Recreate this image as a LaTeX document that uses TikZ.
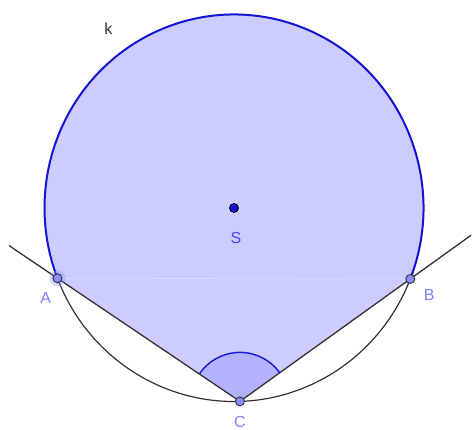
\documentclass[tikz,border=0pt]{standalone}
\usepackage{fontspec}
\setmainfont{Liberation Sans}
\usetikzlibrary{calc}
\definecolor{regfill}{RGB}{204,204,255}
\definecolor{angfill}{RGB}{178,178,255}
\definecolor{circblue}{RGB}{20,20,210}
\definecolor{ptfill}{RGB}{140,140,255}
\definecolor{lbl}{RGB}{128,128,255}
\definecolor{slbl}{RGB}{70,70,255}
\definecolor{ln}{RGB}{50,50,50}
\begin{document}
\begin{tikzpicture}[x=1pt,y=1pt,
  lineblk/.style={ln,line width=1.3pt},
  ptstyle/.style={circle,fill=ptfill,draw=ln,line width=0.9pt,inner sep=0pt,minimum size=9pt},
  ptlabel/.style={text=lbl,font=\fontsize{16}{18}\selectfont,inner sep=0pt}]
\useasboundingbox (0,0) rectangle (472,430);
\coordinate (S) at (234,222);
\coordinate (A) at ($(S)+(201.3:189.5 and 193.5)$);
\coordinate (B) at ($(S)+(-21.5:189.5 and 193.5)$);
\coordinate (C) at ($(S)+(-88.2:189.5 and 193.5)$);
\coordinate (L) at ($(C)!1.266!(A)$);
\coordinate (R) at ($(C)!1.357!(B)$);
% filled region
\fill[regfill] (B) arc[start angle=-21.5,end angle=201.3,x radius=189.5,y radius=193.5] -- (C) -- cycle;
% angle sector
\fill[angfill] (C) -- ($(C)+(35.7:49)$) arc[start angle=35.7,end angle=145.8,radius=49] -- cycle;
% faint seam
\draw[white,opacity=0.35,line width=0.6pt] (A) -- (B);
% minor arc
\draw[ln,line width=1.2pt] (A) arc[start angle=201.3,end angle=338.5,x radius=189.5,y radius=193.5];
% major arc
\draw[circblue,line width=2pt] (B) arc[start angle=-21.5,end angle=201.3,x radius=189.5,y radius=193.5];
% lines
\draw[lineblk] (L) -- (C) -- (R);
% angle arc
\draw[circblue,line width=1.4pt] ($(C)+(35.7:49)$) arc[start angle=35.7,end angle=145.8,radius=49];
% points
\fill[ptfill,opacity=0.35] (A) circle[radius=8];
\node[ptstyle] (nA) at (A) {};
\node[ptstyle] (nB) at (B) {};
\node[ptstyle] (nC) at (C) {};
\node[circle,fill=circblue,draw=black,line width=0.8pt,inner sep=0pt,minimum size=9pt] (nS) at (S) {};
% labels
\node[ptlabel] (lA) at (45.7,131.7) {A};
\node[ptlabel] (lB) at (429.3,135) {B};
\node[ptlabel] (lC) at (240,8) {C};
\node[ptlabel,text=slbl] (lS) at (236,191.7) {S};
\node[ptlabel,text=ln] (lk) at (108.3,401.7) {k};
\end{tikzpicture}
\end{document}
